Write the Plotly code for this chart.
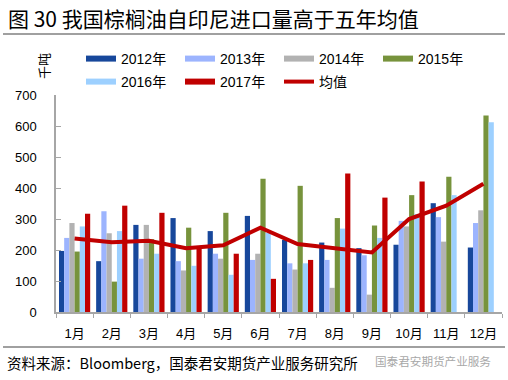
import plotly.graph_objects as go

months = ["1月", "2月", "3月", "4月", "5月", "6月", "7月", "8月", "9月", "10月", "11月", "12月"]
y2012 = [197, 164, 281, 303, 261, 310, 233, 224, 206, 217, 351, 208]
y2013 = [239, 325, 172, 164, 188, 168, 157, 168, 183, 294, 306, 287]
y2014 = [287, 254, 281, 134, 172, 188, 137, 78, 56, 276, 227, 328]
y2015 = [195, 98, 235, 272, 320, 430, 407, 303, 279, 377, 436, 634]
y2016 = [276, 261, 188, 149, 120, 255, 157, 269, 239, 316, 377, 612]
y2017 = [317, 343, 320, 204, 188, 107, 168, 447, 369, 421, None, None]
avg5 = [237, 225, 230, 206, 215, 272, 219, 206, 192, 300, 343, 414]

series = [
    ("2012年", y2012, "#17479B"),
    ("2013年", y2013, "#9CB4FE"),
    ("2014年", y2014, "#B2B2B2"),
    ("2015年", y2015, "#77933C"),
    ("2016年", y2016, "#9DD0FF"),
    ("2017年", y2017, "#C00000"),
]

FONT = "Liberation Sans, Noto Sans CJK SC, sans-serif"
CJK = "Noto Sans CJK SC, sans-serif"

fig = go.Figure()
for name, vals, col in series:
    fig.add_trace(go.Bar(x=months, y=vals, name=name, marker=dict(color=col, line=dict(width=0)),
                         showlegend=False))
fig.add_trace(go.Scatter(x=months, y=avg5, name="均值", mode="lines",
                         line=dict(color="#C00000", width=4), showlegend=False))

L, R, T, B = 56, 6, 95, 68
W, H = 508, 380
pw, ph = W - L - R, H - T - B

def px(x):
    return (x - L) / pw

def py(y):
    return (H - B - y) / ph

legfont = dict(family=FONT, size=14, color="#000")
# legend entries: one small legend box per entry, laid out in 2 rows x 4 columns
entries = [(n, c, 6) for n, _, c in series] + [("均值", "#C00000", 4)]
col_x = [81, 180, 279, 378]
row_y = [59, 82]
legend_layout = {}
for i, (name, col, lw) in enumerate(entries):
    key = "legend" if i == 0 else f"legend{i + 1}"
    fig.add_trace(go.Scatter(x=[None], y=[None], name=name, mode="lines",
                             line=dict(color=col, width=lw), legend=key))
    legend_layout[key] = dict(orientation="h", x=px(col_x[i % 4]), y=py(row_y[i // 4]),
                              xanchor="left", yanchor="middle", font=legfont,
                              bgcolor="rgba(0,0,0,0)")

fig.update_layout(
    width=W, height=H,
    margin=dict(l=L, r=R, t=T, b=B, pad=0),
    paper_bgcolor="white", plot_bgcolor="white",
    barmode="group", bargap=0.16, bargroupgap=0,
    font=dict(family=FONT, size=13, color="#000"),
    showlegend=True,
    xaxis=dict(showgrid=False, showline=True, linecolor="#A6A6A6", linewidth=2,
               ticks="outside", tickson="boundaries", ticklen=4, tickcolor="#A6A6A6",
               tickfont=dict(family=FONT, size=13), ticklabelstandoff=8, zeroline=False),
    yaxis=dict(range=[0, 700], dtick=100, showgrid=False, showline=True, linecolor="#A6A6A6",
               linewidth=1.5, ticks="inside", ticklen=5, tickcolor="#A6A6A6",
               tickfont=dict(family=FONT, size=13), ticklabelstandoff=15, zeroline=False),
    annotations=[
        dict(text="图 30 我国棕榈油自印尼进口量高于五年均值", xref="paper", yref="paper",
             x=px(6), y=py(18), xanchor="left", yanchor="middle", showarrow=False,
             font=dict(family=CJK, size=21, color="#000")),
        dict(text="千吨", xref="paper", yref="paper", x=px(43), y=py(66), textangle=-90,
             xanchor="center", yanchor="middle", showarrow=False,
             font=dict(family=CJK, size=13, color="#000")),
        dict(text="资料来源：Bloomberg，国泰君安期货产业服务研究所", xref="paper", yref="paper",
             x=px(5), y=py(362), xanchor="left", yanchor="middle", showarrow=False,
             font=dict(family=CJK, size=14.5, color="#000")),
        dict(text="国泰君安期货产业服务", xref="paper", yref="paper",
             x=px(373), y=py(361), xanchor="left", yanchor="middle", showarrow=False,
             font=dict(family=CJK, size=11.6, color="#A8A8A8")),
    ],
    shapes=[
        dict(type="line", xref="paper", yref="paper", x0=px(3), x1=px(505), y0=py(34), y1=py(34),
             line=dict(color="#808080", width=1.5)),
        dict(type="line", xref="paper", yref="paper", x0=px(3), x1=px(505), y0=py(347), y1=py(347),
             line=dict(color="#808080", width=1.5)),
    ],
    **legend_layout,
)

fig.write_html("out.html", config={"displayModeBar": False},
               post_script="document.body.style.margin='0';")
